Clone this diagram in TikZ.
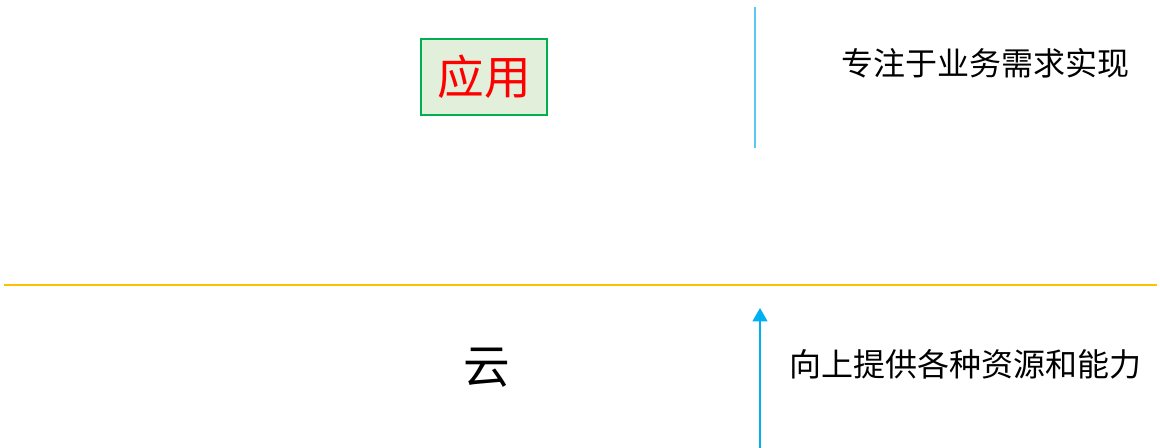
\documentclass[tikz,border=0pt]{standalone}
\usepackage{fontspec}
\usetikzlibrary{arrows.meta}
\setmainfont{Noto Sans CJK SC}
\definecolor{boxgreen}{HTML}{00B050}
\definecolor{boxfill}{HTML}{E2EFDA}
\definecolor{lineblue}{HTML}{5BC8F0}
\definecolor{arrowblue}{HTML}{00B0F0}
\definecolor{lineyellow}{HTML}{FFC000}
\tikzset{
  label text/.style={inner sep=0pt,font=\fontsize{24pt}{27pt}\selectfont},
  layer text/.style={inner sep=0pt,font=\fontsize{35pt}{39pt}\selectfont}
}
\begin{document}
\begin{tikzpicture}[x=0.75pt,y=0.75pt,>={Triangle[width=11pt,length=10pt]}]
	\useasboundingbox (0,0) rectangle (1160,448);
	% upper layer
	\node[layer text,draw=boxgreen,line width=1.5pt,fill=boxfill,text=red,
	  minimum width=95pt,minimum height=57pt] (app) at (484,371) {应用};
	\coordinate (vtop) at (755,441);
	\coordinate (vbot) at (755,300);
	\draw[lineblue,line width=1pt] (vtop)--(vbot);
	\node[label text,anchor=west] (focus) at (841,385) {专注于业务需求实现};
	% divider
	\coordinate (hl) at (4,163);
	\coordinate (hr) at (1157,163);
	\draw[lineyellow,line width=1pt] (hl)--(hr);
	% lower layer
	\node[layer text] (cloud) at (487,80) {云};
	\coordinate (abot) at (760,0);
	\coordinate (atop) at (760,140);
	\draw[->,arrowblue,line width=1.5pt] (abot)--(atop);
	\node[label text,anchor=west] (supply) at (789,84) {向上提供各种资源和能力};
\end{tikzpicture}
\end{document}
